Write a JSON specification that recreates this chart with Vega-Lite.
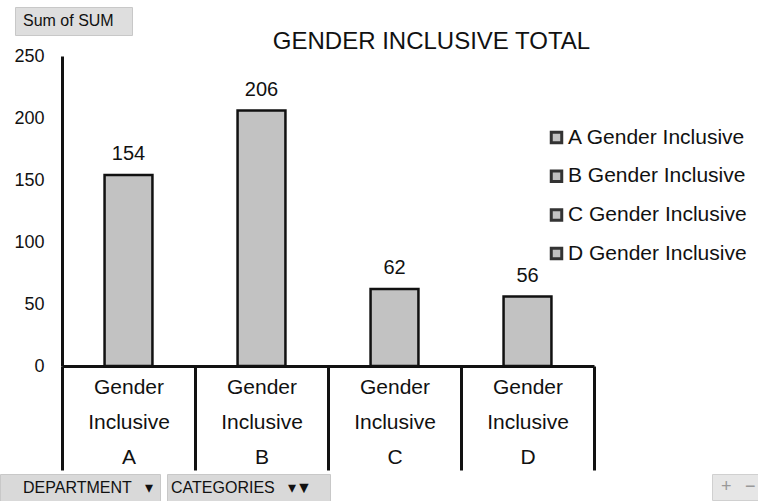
{
  "$schema": "https://vega.github.io/schema/vega-lite/v6.json",
  "width": 532,
  "height": 310,
  "autosize": {"type": "none"},
  "padding": {"left": 62, "top": 56, "right": 164, "bottom": 135},
  "background": "white",
  "config": {
    "view": {"stroke": null},
    "font": "Liberation Sans",
    "legend": {"padding": 0, "labelLimit": 400}
  },
  "layer": [
    {
      "data": {
        "values": [
          {"department": "A", "category": "Gender Inclusive", "sum": 154, "series": "A Gender Inclusive"},
          {"department": "B", "category": "Gender Inclusive", "sum": 206, "series": "B Gender Inclusive"},
          {"department": "C", "category": "Gender Inclusive", "sum": 62, "series": "C Gender Inclusive"},
          {"department": "D", "category": "Gender Inclusive", "sum": 56, "series": "D Gender Inclusive"}
        ]
      },
      "layer": [
        {
          "mark": {"type": "bar", "stroke": "#111111", "strokeWidth": 2.5, "width": {"band": 0.36}},
          "encoding": {
            "x": {
              "field": "department",
              "type": "nominal",
              "scale": {"padding": 0},
              "axis": {
                "title": null,
                "labelAngle": 0,
                "domainWidth": 3,
                "domainColor": "#111111",
                "tickBand": "extent",
                "tickSize": 104,
                "tickWidth": 3,
                "tickColor": "#111111",
                "labelPadding": -94,
                "labelBaseline": "top",
                "labelLineHeight": 35,
                "labelFontSize": 21,
                "labelColor": "#111111",
                "labelExpr": "datum.value ? ['Gender', 'Inclusive', datum.value] : ''"
              }
            },
            "y": {
              "field": "sum",
              "type": "quantitative",
              "scale": {"domain": [0, 250], "nice": false},
              "axis": {
                "title": "GENDER INCLUSIVE TOTAL",
                "titleAngle": 0,
                "titleX": 369,
                "titleY": -8,
                "titleAlign": "center",
                "titleBaseline": "alphabetic",
                "titleFontSize": 24,
                "titleFontWeight": "normal",
                "titleColor": "#111111",
                "values": [0, 50, 100, 150, 200, 250],
                "grid": false,
                "ticks": false,
                "domainWidth": 3,
                "domainColor": "#111111",
                "labelPadding": 18,
                "labelFontSize": 18,
                "labelColor": "#111111"
              }
            },
            "color": {
              "field": "series",
              "type": "nominal",
              "scale": {"range": ["#c2c2c2", "#c2c2c2", "#c2c2c2", "#c2c2c2"]},
              "legend": {
                "title": null,
                "orient": "none",
                "legendX": 484,
                "legendY": 71,
                "symbolType": "square",
                "symbolSize": 110,
                "symbolStrokeColor": "#333333",
                "symbolStrokeWidth": 3,
                "labelFontSize": 21,
                "labelColor": "#111111",
                "labelOffset": 1,
                "rowPadding": 15.7
              }
            }
          }
        },
        {
          "mark": {"type": "text", "baseline": "bottom", "dy": -11, "fontSize": 20, "color": "#111111"},
          "encoding": {
            "x": {"field": "department", "type": "nominal"},
            "y": {"field": "sum", "type": "quantitative"},
            "text": {"field": "sum", "type": "quantitative"}
          }
        }
      ]
    },
    {
      "data": {"values": [{"button": "Sum of SUM"}]},
      "mark": {"type": "point", "opacity": 0, "size": 0},
      "encoding": {
        "stroke": {
          "field": "button",
          "type": "nominal",
          "scale": {"range": ["#000000"]},
          "legend": {
            "title": null,
            "orient": "none",
            "legendX": -47,
            "legendY": -49,
            "padding": 6,
            "fillColor": "#dedede",
            "strokeColor": "#c8c8c8",
            "symbolOpacity": 0,
            "symbolStrokeWidth": 0,
            "symbolSize": 1,
            "labelOffset": -14,
            "labelFontSize": 16,
            "labelColor": "#111111",
            "labelExpr": "datum.label + '\u2800'"
          }
        }
      }
    },
    {
      "data": {"values": [{"button": "DEPARTMENT"}]},
      "mark": {"type": "point", "opacity": 0, "size": 0},
      "encoding": {
        "shape": {
          "field": "button",
          "type": "nominal",
          "legend": {
            "title": null,
            "orient": "none",
            "legendX": -62,
            "legendY": 418,
            "padding": 6,
            "fillColor": "#d9d9d9",
            "strokeColor": "#c8c8c8",
            "symbolOpacity": 0,
            "symbolStrokeWidth": 0,
            "symbolSize": 1,
            "labelOffset": 1,
            "labelFontSize": 16,
            "labelColor": "#111111",
            "labelExpr": "datum.label + '\u00a0\u00a0\u00a0\u25be\u00a0'"
          }
        }
      }
    },
    {
      "data": {"values": [{"button": "CATEGORIES"}]},
      "mark": {"type": "point", "opacity": 0, "size": 0},
      "encoding": {
        "fill": {
          "field": "button",
          "type": "nominal",
          "scale": {"range": ["#000000"]},
          "legend": {
            "title": null,
            "orient": "none",
            "legendX": 105,
            "legendY": 418,
            "padding": 6,
            "fillColor": "#d9d9d9",
            "strokeColor": "#c8c8c8",
            "symbolOpacity": 0,
            "symbolStrokeWidth": 0,
            "symbolSize": 1,
            "labelOffset": -18,
            "labelFontSize": 16,
            "labelColor": "#111111",
            "labelExpr": "datum.label + '\u00a0\u00a0\u00a0\u25be\u25bc\u2800'"
          }
        }
      }
    },
    {
      "data": {"values": [{"button": "+"}, {"button": "\u2212"}]},
      "mark": {"type": "point", "opacity": 0, "size": 0},
      "encoding": {
        "strokeDash": {
          "field": "button",
          "type": "nominal",
          "legend": {
            "title": null,
            "orient": "none",
            "direction": "horizontal",
            "legendX": 650,
            "legendY": 418,
            "padding": 4,
            "columnPadding": 8,
            "fillColor": "#e6e6e6",
            "strokeColor": "#d0d0d0",
            "symbolOpacity": 0,
            "symbolStrokeWidth": 0,
            "symbolSize": 1,
            "labelOffset": -13,
            "labelFontSize": 18,
            "labelColor": "#999999"
          }
        }
      }
    }
  ]
}
